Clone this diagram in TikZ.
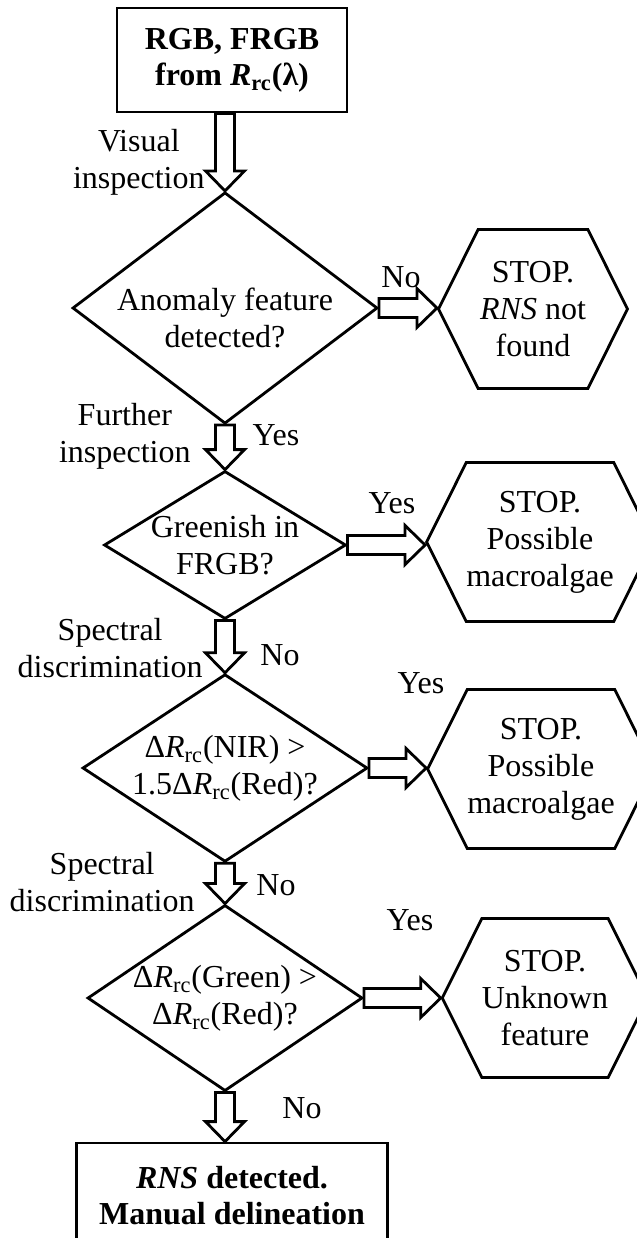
\documentclass[tikz,border=0pt]{standalone}
\usepackage{fontspec}
\setmainfont{Liberation Serif}
\usetikzlibrary{shapes.geometric,shapes.symbols,calc}

\tikzset{
  chartfont/.style={font={\fontsize{16pt}{18.5pt}\selectfont}},
  startbox/.style={draw, line width=1.4pt, chartfont, align=center, inner sep=0pt,
    font={\fontsize{16pt}{18pt}\selectfont\bfseries}},
  decision/.style={draw, diamond, line width=1.4pt, chartfont, align=center, inner sep=-8pt},
  stopsign/.style={draw, signal, signal to=east and west, signal pointer angle=127,
    line width=1.4pt, chartfont, align=center, inner sep=0pt,
    minimum width=94.5pt, minimum height=79.5pt},
  labeltext/.style={chartfont, align=center, inner sep=0pt},
  blockarrow/.style={draw, line width=1.4pt, line join=miter, fill=white}
}

% hollow block arrows between named nodes
\newcommand{\downblock}[2]{%
  \draw[blockarrow] let \p1=(#1), \p2=(#2) in
    (\x2-4.75pt,\y1) -- (\x2-4.75pt,\y2+10pt) -- (\x2-9.75pt,\y2+10pt) -- (\x2,\y2)
    -- (\x2+9.75pt,\y2+10pt) -- (\x2+4.75pt,\y2+10pt) -- (\x2+4.75pt,\y1) -- cycle;}
\newcommand{\rightblock}[2]{%
  \draw[blockarrow] let \p1=(#1), \p2=(#2) in
    (\x1,\y1+4.75pt) -- (\x2-10pt,\y1+4.75pt) -- (\x2-10pt,\y1+9.75pt) -- (\x2,\y1)
    -- (\x2-10pt,\y1-9.75pt) -- (\x2-10pt,\y1-4.75pt) -- (\x1,\y1-4.75pt) -- cycle;}

\begin{document}
\begin{tikzpicture}[x=0.5pt, y=-0.5pt]
  \useasboundingbox (0,0) rectangle (637,1238);
  \path
    (232,60) node[startbox, minimum width=115pt, minimum height=52pt] (rgb)
      {RGB, FRGB\\from \textit{R}\textsubscript{rc}(λ)}
    (225,308) node[decision, minimum width=152.5pt, minimum height=100pt] (anomaly)
      {\rule{0pt}{21pt}Anomaly feature\\detected?}
    (225,545) node[decision, minimum width=121pt, minimum height=74pt] (greenish)
      {Greenish in\\FRGB?}
    (225,768) node[decision, minimum width=142.5pt, minimum height=89pt] (nir)
      {Δ\textit{R}\textsubscript{rc}(NIR) >\\1.5Δ\textit{R}\textsubscript{rc}(Red)?}
    (225,998) node[decision, minimum width=137.5pt, minimum height=81.5pt] (green)
      {Δ\textit{R}\textsubscript{rc}(Green) >\\Δ\textit{R}\textsubscript{rc}(Red)?}
    (232,1196) node[startbox, minimum width=155.5pt, minimum height=53pt] (rns)
      {\textit{RNS} detected.\\Manual delineation}
    (533,309) node[stopsign] (notfound) {STOP.\\\textit{RNS} not\\found}
    (540,542) node[stopsign] (algae1) {STOP.\\Possible\\macroalgae}
    (541,769) node[stopsign] (algae2) {STOP.\\Possible\\macroalgae}
    (545,998) node[stopsign] (unknown) {STOP.\\Unknown\\feature};

  % connectors
  \downblock{rgb.south}{anomaly.north}
  \downblock{anomaly.south}{greenish.north}
  \downblock{greenish.south}{nir.north}
  \downblock{nir.south}{green.north}
  \downblock{green.south}{rns.north -| green}
  \rightblock{anomaly.east}{notfound.west}
  \rightblock{greenish.east}{algae1.west}
  \rightblock{nir.east}{algae2.west}
  \rightblock{green.east}{unknown.west}

  % labels
  \path
    (205,162) node[labeltext, anchor=east] (visual) {Visual\\inspection}
    (401,277) node[labeltext] (no1) {No}
    (191,436) node[labeltext, anchor=east] (further) {Further\\inspection}
    (276,435) node[labeltext] (yes1) {Yes}
    (392,503) node[labeltext] (yes2) {Yes}
    (203,648) node[labeltext, anchor=east] (spectral1) {Spectral\\discrimination}
    (280,655) node[labeltext] (no2) {No}
    (421,683) node[labeltext] (yes3) {Yes}
    (195,882) node[labeltext, anchor=east] (spectral2) {Spectral\\discrimination}
    (276,885) node[labeltext] (no3) {No}
    (410,920) node[labeltext] (yes4) {Yes}
    (302,1108) node[labeltext] (no4) {No};
\end{tikzpicture}
\end{document}
